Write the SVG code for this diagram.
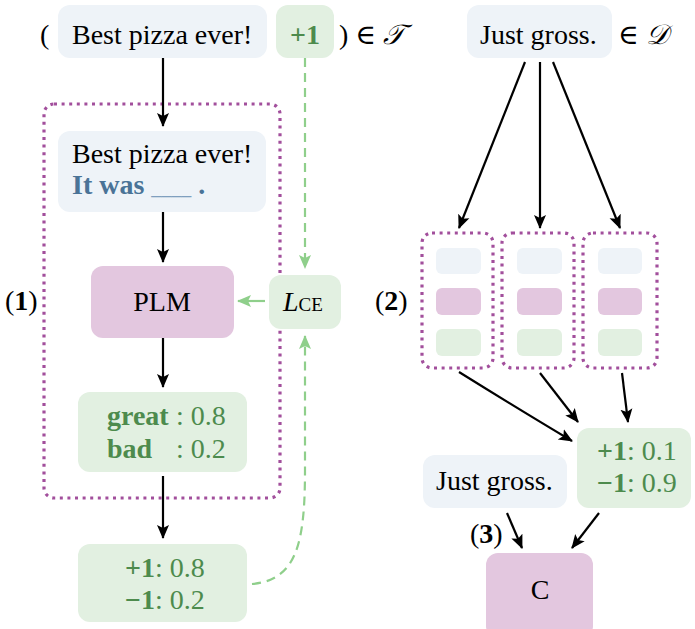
<svg xmlns="http://www.w3.org/2000/svg" width="695" height="629" viewBox="0 0 695 629" font-family="Liberation Serif, serif">
<style>
text{font-family:"Liberation Serif","DejaVu Serif",serif;fill:#000}
.t{font-size:28px}
.g{fill:#4d8b4d}
.b{font-weight:bold}
.blue{fill:#eef3f8}
.pink{fill:#e3c7df}
.green{fill:#e2f0e1}
.dot{fill:none;stroke:#a24f9c;stroke-width:3.2;stroke-dasharray:3 4.6}
.arr{fill:none;stroke:#000;stroke-width:2.2;marker-end:url(#ah)}
.garr{fill:none;stroke:#8fcf8b;stroke-width:2.2;marker-end:url(#gh)}
.gdash{stroke-dasharray:9 6}
</style>
<defs>
<marker id="ah" viewBox="0 0 14 14" refX="13" refY="7" markerWidth="14" markerHeight="14" markerUnits="userSpaceOnUse" orient="auto"><path d="M0,1 L14,7 L0,13 L3,7 z" fill="#000"/></marker>
<marker id="gh" viewBox="0 0 14 14" refX="13" refY="7" markerWidth="14" markerHeight="14" markerUnits="userSpaceOnUse" orient="auto"><path d="M0,1 L14,7 L0,13 L3,7 z" fill="#8fcf8b"/></marker>
</defs>

<g id="frame1"><rect class="dot" x="44" y="104" width="236" height="394" rx="10"/></g>

<g id="input-text">
<text class="t" x="40" y="44">(</text>
<rect class="blue" x="58" y="5" width="209" height="53" rx="12"/>
<text class="t" x="72" y="44">Best pizza ever!</text>
</g>
<g id="input-label">
<rect class="green" x="276" y="5" width="58" height="53" rx="12"/>
<text class="t g b" x="305" y="44" text-anchor="middle">+1</text>
<text class="t" x="339" y="44">) ∈ <tspan font-style="italic">𝒯</tspan></text>
</g>

<g id="pattern">
<rect class="blue" x="58" y="131" width="208" height="81" rx="12"/>
<text class="t" x="72" y="163">Best pizza ever!</text>
<text class="t b" x="72" y="194" style="fill:#4a7397">It was <tspan font-size="20" font-weight="normal" style="fill:#7f9fbf">____</tspan> .</text>
</g>

<g id="plm">
<rect class="pink" x="91" y="266" width="143" height="72" rx="12"/>
<text class="t" x="162" y="311" text-anchor="middle">PLM</text>
</g>

<g id="lce">
<rect class="green" x="269" y="275" width="72" height="54" rx="12"/>
<text x="283" y="311" font-size="28"><tspan font-style="italic">L</tspan><tspan font-size="19">CE</tspan></text>
</g>

<g id="verbalizer">
<rect class="green" x="78" y="392" width="169" height="80" rx="12"/>
<text class="t g b" x="107" y="425">great</text>
<text class="t g" x="176" y="425">: 0.8</text>
<text class="t g b" x="107" y="458">bad</text>
<text class="t g" x="176" y="458">: 0.2</text>
</g>

<g id="labels-out">
<rect class="green" x="78" y="544" width="169" height="78" rx="12"/>
<text class="t g" x="125" y="577"><tspan class="b">+1</tspan>: 0.8</text>
<text class="t g" x="125" y="609"><tspan class="b">−1</tspan>: 0.2</text>
</g>

<g id="step1"><text class="t" x="5" y="310">(<tspan class="b">1</tspan>)</text></g>

<g id="unlabeled">
<rect class="blue" x="467" y="5" width="145" height="53" rx="12"/>
<text class="t" x="480" y="44">Just gross.</text>
<text class="t" x="618" y="44">∈ <tspan font-style="italic">𝒟</tspan></text>
</g>

<g id="step2"><text class="t" x="375" y="310">(<tspan class="b">2</tspan>)</text></g>

<g id="ensemble1">
<rect class="dot" x="422" y="233" width="71" height="135" rx="10"/>
<rect class="blue" x="436" y="248" width="45" height="26" rx="6"/>
<rect class="pink" x="436" y="288" width="45" height="27" rx="6"/>
<rect class="green" x="436" y="329" width="45" height="27" rx="6"/>
</g>
<g id="ensemble2">
<rect class="dot" x="502" y="233" width="72" height="135" rx="10"/>
<rect class="blue" x="517" y="248" width="45" height="26" rx="6"/>
<rect class="pink" x="517" y="288" width="45" height="27" rx="6"/>
<rect class="green" x="517" y="329" width="45" height="27" rx="6"/>
</g>
<g id="ensemble3">
<rect class="dot" x="583" y="233" width="74" height="135" rx="10"/>
<rect class="blue" x="598" y="248" width="44" height="26" rx="6"/>
<rect class="pink" x="598" y="288" width="44" height="27" rx="6"/>
<rect class="green" x="598" y="329" width="44" height="27" rx="6"/>
</g>

<g id="soft-labels">
<rect class="green" x="577" y="428" width="114" height="80" rx="12"/>
<text class="t g" x="597" y="460"><tspan class="b">+1</tspan>: 0.1</text>
<text class="t g" x="597" y="492"><tspan class="b">−1</tspan>: 0.9</text>
</g>

<g id="unlabeled2">
<rect class="blue" x="423" y="455" width="144" height="53" rx="12"/>
<text class="t" x="436" y="490">Just gross.</text>
</g>

<g id="step3"><text class="t" x="470" y="543">(<tspan class="b">3</tspan>)</text></g>

<g id="classifier">
<rect class="pink" x="486" y="553" width="107" height="85" rx="12"/>
<text class="t" x="540" y="599" text-anchor="middle">C</text>
</g>

<g id="connectors">
<path class="arr" d="M163 58 V126"/>
<path class="arr" d="M163 212 V262"/>
<path class="arr" d="M163 338 V387"/>
<path class="arr" d="M163 476 V538"/>
<path class="garr gdash" d="M305 58 V268"/>
<path class="garr" d="M265 301 H238"/>
<path class="garr gdash" d="M252 584 C296 580 305 545 305 470 V336"/>
<path class="arr" d="M525 62 L459 228"/>
<path class="arr" d="M540 62 V228"/>
<path class="arr" d="M553 62 L620 228"/>
<path class="arr" d="M459 372 Q520 410 572 441"/>
<path class="arr" d="M540 373 L578 422"/>
<path class="arr" d="M622 373 L628 422"/>
<path class="arr" d="M507 513 L522 548"/>
<path class="arr" d="M599 513 L572 548"/>
</g>
</svg>
